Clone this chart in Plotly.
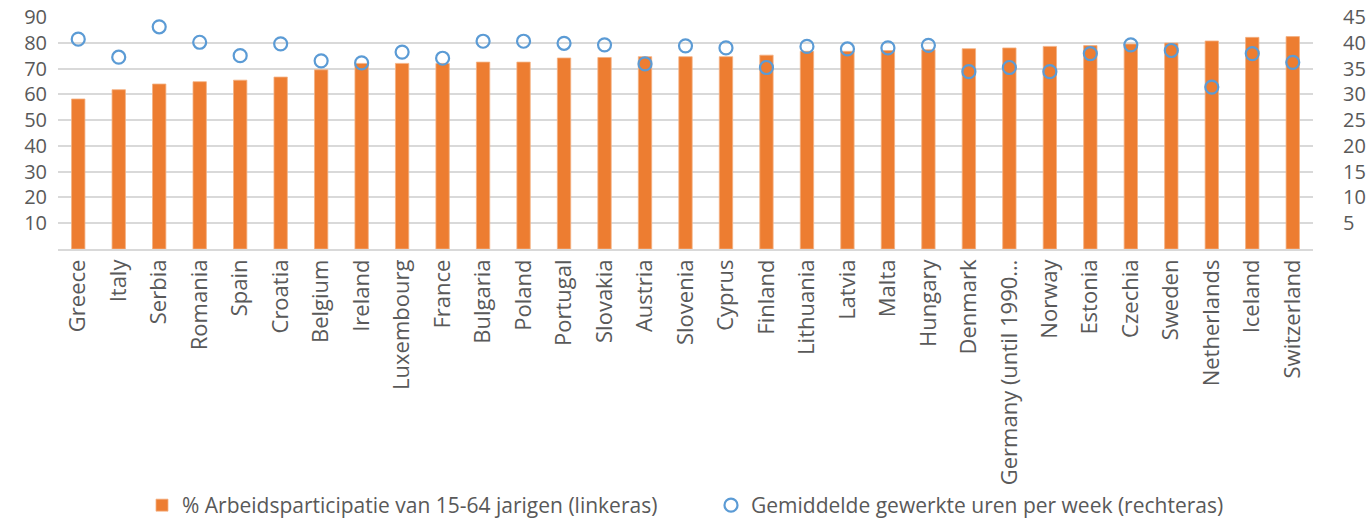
import plotly.graph_objects as go

countries = ["Greece", "Italy", "Serbia", "Romania", "Spain", "Croatia", "Belgium", "Ireland",
             "Luxembourg", "France", "Bulgaria", "Poland", "Portugal", "Slovakia", "Austria",
             "Slovenia", "Cyprus", "Finland", "Lithuania", "Latvia", "Malta", "Hungary", "Denmark",
             "Germany (until 1990…", "Norway", "Estonia", "Czechia", "Sweden", "Netherlands",
             "Iceland", "Switzerland"]

participation = [58.2, 61.8, 64.0, 64.9, 65.5, 66.7, 69.5, 72.0, 72.0, 72.0, 72.5, 72.5, 74.1,
                 74.3, 74.6, 74.6, 74.6, 75.2, 76.7, 76.7, 77.0, 77.3, 77.7, 78.0, 78.6, 78.9,
                 79.5, 79.9, 80.7, 82.1, 82.4]

hours = [40.7, 37.2, 43.1, 40.1, 37.5, 39.8, 36.5, 36.1, 38.2, 37.0, 40.3, 40.3, 39.9, 39.6,
         35.9, 39.4, 39.0, 35.2, 39.3, 38.8, 39.0, 39.5, 34.4, 35.2, 34.4, 37.9, 39.6, 38.5,
         31.4, 37.9, 36.2]

left_ticks = [10, 20, 30, 40, 50, 60, 70, 80, 90]
right_ticks = [5, 10, 15, 20, 25, 30, 35, 40, 45]

name_bar = "% Arbeidsparticipatie van 15-64 jarigen (linkeras)"
name_pts = "Gemiddelde gewerkte uren per week (rechteras)"

font = "Open Sans"
grey = "#595959"

fig = go.Figure()
fig.add_trace(go.Bar(
    x=countries, y=participation, name=name_bar, width=0.33,
    marker=dict(color="#ED7D31", line=dict(color="#F4B183", width=0.8)),
    yaxis="y",
))
fig.add_trace(go.Scatter(
    x=countries, y=hours, name=name_pts, mode="markers", yaxis="y2",
    marker=dict(symbol="circle-open", size=13, color="#5B9BD5", line=dict(width=2.2, color="#5B9BD5")),
))

W, H = 1368, 520
fig.update_layout(
    width=W, height=H,
    margin=dict(l=58, r=55, t=17, b=271, autoexpand=False),
    paper_bgcolor="white", plot_bgcolor="white",
    font=dict(family=font, color=grey, size=17),
    showlegend=True,
    legend=dict(orientation="h", xref="container", yref="container", x=142 / W, y=1 - 485 / H,
                xanchor="left", yanchor="top", font=dict(family=font, size=21, color=grey),
                entrywidth=524, entrywidthmode="pixels", traceorder="normal",
                itemwidth=30),
    xaxis=dict(type="category", tickangle=-90, showgrid=False, showline=True, automargin=False,
               linecolor="#d9d9d9", linewidth=1.5, ticks="", tickfont=dict(size=22, color=grey),
               range=[-0.5, len(countries) - 0.5]),
    yaxis=dict(range=[0, 90], tickvals=left_ticks, showgrid=True, gridcolor="#d9d9d9", gridwidth=1.5,
               zeroline=False, showline=False, ticks="", tickfont=dict(size=20, color=grey),
               ticklabelstandoff=10, automargin=False),
    yaxis2=dict(range=[0, 45], tickvals=right_ticks, overlaying="y", side="right", showgrid=False,
                zeroline=False, showline=False, ticks="outside", ticklen=25,
                tickcolor="rgba(0,0,0,0)", tickfont=dict(size=20, color=grey),
                automargin=False),
)

fig.write_html("out.html", config={"displayModeBar": False},
               post_script="document.body.style.margin='0';document.body.style.overflow='hidden';")
